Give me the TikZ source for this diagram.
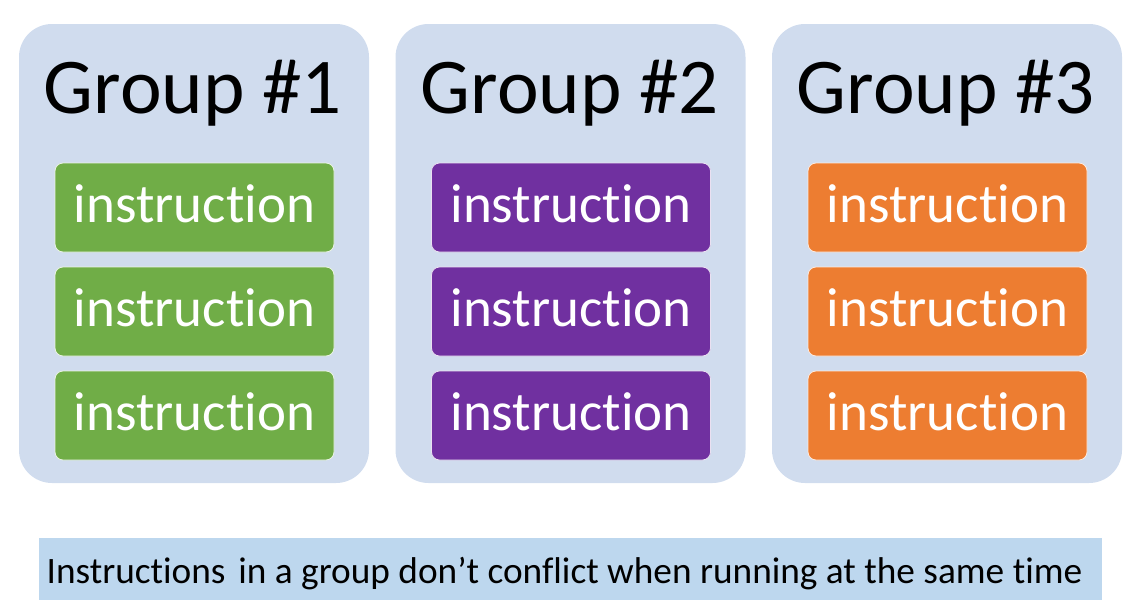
\documentclass[tikz,border=0pt]{standalone}
\usepackage{fontspec}
\setmainfont{Carlito}[Ligatures=CommonOff]
\usetikzlibrary{positioning}

\definecolor{groupbg}{HTML}{D0DCEE}
\definecolor{instgreen}{HTML}{70AD47}
\definecolor{instpurple}{HTML}{7030A0}
\definecolor{instorange}{HTML}{ED7D31}
\definecolor{notebg}{HTML}{BDD7EE}

\begin{document}
\begin{tikzpicture}[x=1pt, y=-1pt,
    groupbox/.style={fill=groupbg, rounded corners=33pt, minimum width=350pt, minimum height=459pt, inner sep=0pt},
    grouptitle/.style={anchor=base, font=\fontsize{79}{80}\selectfont},
    instbox/.style={fill=#1, draw=white!85!#1, line width=0.8pt, rounded corners=8pt,
        minimum width=279pt, minimum height=89pt, inner sep=0pt,
        text=white, text height=30pt, text depth=0pt, font=\fontsize{55}{60}\selectfont},
    notebox/.style={fill=notebg, minimum width=1063pt, minimum height=62pt, inner sep=0pt,
        text height=29pt, text depth=0pt, font=\fontsize{37.3}{40}\selectfont}
  ]
    \useasboundingbox (0,0) rectangle (1145,613);

    % Draw the groups
    \node[groupbox] (group1) at (194,253.5) {};
    \node[groupbox] (group2) at (570.5,253.5) {};
    \node[groupbox] (group3) at (947,253.5) {};

    % Group titles
    \node[grouptitle] (title1) at (193,113) {Group \#1};
    \node[grouptitle] (title2) at (570,113) {Group \#2};
    \node[grouptitle] (title3) at (946,113) {Group \#3};

    % Instructions of group 1
    \node[instbox=instgreen] (g1a) at (194.5,207.5) {instruction};
    \node[instbox=instgreen] (g1b) at (194.5,311.5) {instruction};
    \node[instbox=instgreen] (g1c) at (194.5,415.5) {instruction};

    % Instructions of group 2
    \node[instbox=instpurple] (g2a) at (571,207.5) {instruction};
    \node[instbox=instpurple] (g2b) at (571,311.5) {instruction};
    \node[instbox=instpurple] (g2c) at (571,415.5) {instruction};

    % Instructions of group 3
    \node[instbox=instorange] (g3a) at (947.5,207.5) {instruction};
    \node[instbox=instorange] (g3b) at (947.5,311.5) {instruction};
    \node[instbox=instorange] (g3c) at (947.5,415.5) {instruction};

    % Note below
    \node[notebox] (note) at (570.5,569) {\hspace{-12pt}Instructions\hspace{0.12em} in a group don’t conflict when running at the same time};
\end{tikzpicture}
\end{document}
